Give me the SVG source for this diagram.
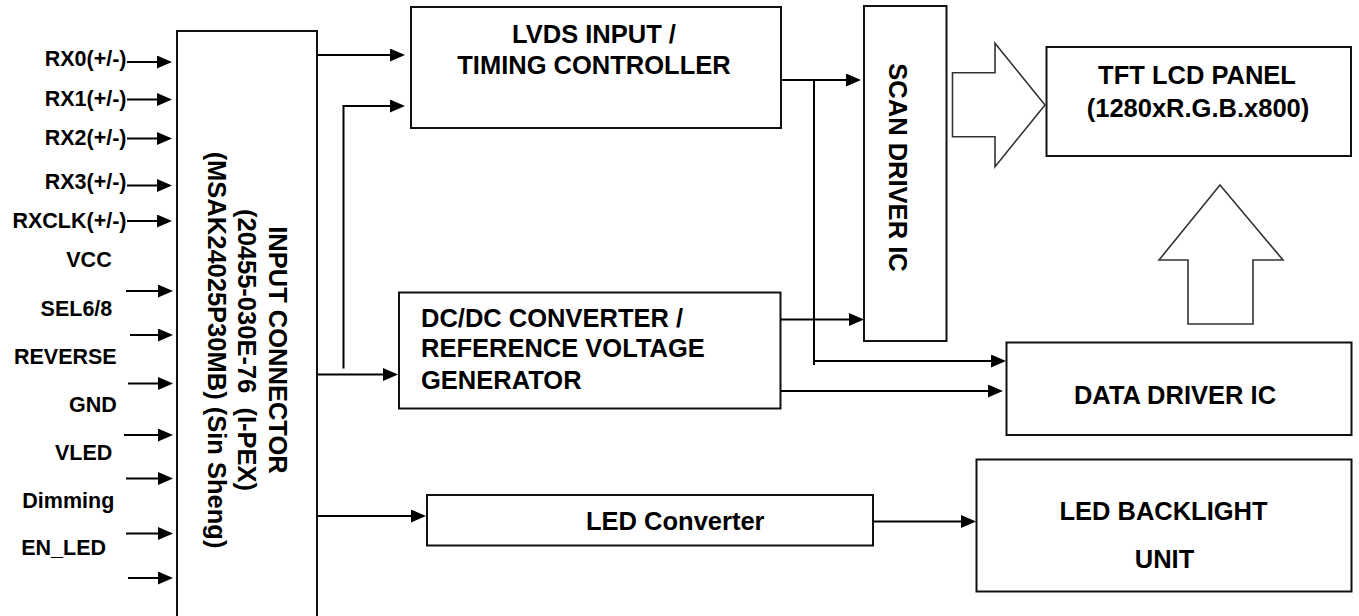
<svg xmlns="http://www.w3.org/2000/svg" width="1359" height="616" viewBox="0 0 1359 616">
<defs>
<style>
.box{fill:#fff;stroke:#111;stroke-width:2}
.big{fill:#fff;stroke:#333;stroke-width:1.6;stroke-linejoin:miter}
.ln{fill:none;stroke:#000;stroke-width:2}
.arr{fill:none;stroke:#000;stroke-width:2;marker-end:url(#ah)}
.t{font-family:"Liberation Sans",Arial,sans-serif;font-weight:bold;font-size:25.5px;fill:#000}
.c{text-anchor:middle}
.lb{font-family:"Liberation Sans",Arial,sans-serif;font-weight:bold;font-size:21.5px;fill:#000;text-anchor:end}
</style>
<marker id="ah" markerWidth="16" markerHeight="14" refX="7" refY="6.5" orient="auto" markerUnits="userSpaceOnUse">
<path d="M0,0 L15,6.5 L0,13 z" fill="#000"/>
</marker>
</defs>
<rect width="1359" height="616" fill="#fff"/>

<g id="input-connector">
<rect class="box" x="177" y="31" width="140" height="600"/>
<text class="t c" transform="translate(207.5,350) rotate(90)">(MSAK24025P30MB)  (Sin Sheng)</text>
<text class="t c" transform="translate(238,350) rotate(90)" xml:space="preserve">(20455-030E-76  (I-PEX)</text>
<text class="t c" transform="translate(269,350) rotate(90)">INPUT CONNECTOR</text>
</g>

<g id="signal-labels">
<text class="lb" x="126.5" y="66">RX0(+/-)</text>
<text class="lb" x="126.5" y="106">RX1(+/-)</text>
<text class="lb" x="126.5" y="145">RX2(+/-)</text>
<text class="lb" x="126.5" y="189">RX3(+/-)</text>
<text class="lb" x="126.5" y="228">RXCLK(+/-)</text>
<text class="lb" x="111.7" y="266.5">VCC</text>
<text class="lb" x="112.3" y="315.5">SEL6/8</text>
<text class="lb" x="116.7" y="363.5">REVERSE</text>
<text class="lb" x="116.7" y="411.5">GND</text>
<text class="lb" x="112.3" y="460">VLED</text>
<text class="lb" x="114.3" y="507.5">Dimming</text>
<text class="lb" x="106" y="554.5">EN_LED</text>
</g>

<g id="lvds-timing-controller">
<rect class="box" x="411" y="7" width="370" height="121"/>
<text class="t c" x="594" y="42.5">LVDS INPUT /</text>
<text class="t c" x="594" y="73.5">TIMING CONTROLLER</text>
</g>

<g id="dcdc-converter">
<rect class="box" x="399" y="292.5" width="381.5" height="116"/>
<text class="t" x="421" y="327">DC/DC CONVERTER /</text>
<text class="t" x="421" y="357">REFERENCE VOLTAGE</text>
<text class="t" x="421" y="389">GENERATOR</text>
</g>

<g id="led-converter">
<rect class="box" x="427" y="495" width="446" height="50.5"/>
<text class="t" x="586" y="530">LED Converter</text>
</g>

<g id="scan-driver-ic">
<rect class="box" x="864" y="6" width="82.5" height="335"/>
<text class="t c" transform="translate(889,167.5) rotate(90)">SCAN DRIVER IC</text>
</g>

<g id="tft-lcd-panel">
<rect class="box" x="1046.5" y="47" width="304.5" height="109"/>
<text class="t c" x="1197" y="83.5">TFT LCD PANEL</text>
<text class="t c" x="1198" y="116.5">(1280xR.G.B.x800)</text>
</g>

<g id="data-driver-ic">
<rect class="box" x="1006.5" y="342.5" width="345" height="92.5"/>
<text class="t c" x="1175" y="403.5">DATA DRIVER IC</text>
</g>

<g id="led-backlight-unit">
<rect class="box" x="976.5" y="459.5" width="375" height="132"/>
<text class="t c" x="1163.5" y="520">LED BACKLIGHT</text>
<text class="t c" x="1164.5" y="568">UNIT</text>
</g>

<g id="block-arrows">
<polygon class="big" points="952.5,72.7 995,72.7 995,43.3 1045,105 995,166.7 995,136.7 952.5,136.7"/>
<polygon class="big" points="1220,185 1283,260 1253,260 1253,324 1188,324 1188,260 1159,260"/>
</g>

<g id="connectors">
<line class="arr" x1="127" y1="62" x2="164" y2="62"/>
<line class="arr" x1="127" y1="99.5" x2="164" y2="99.5"/>
<line class="arr" x1="127" y1="138.5" x2="164" y2="138.5"/>
<line class="arr" x1="127" y1="185.5" x2="164" y2="185.5"/>
<line class="arr" x1="127" y1="221" x2="164" y2="221"/>
<line class="arr" x1="126" y1="291" x2="165" y2="291"/>
<line class="arr" x1="130" y1="335" x2="165" y2="335"/>
<line class="arr" x1="128" y1="383.5" x2="165" y2="383.5"/>
<line class="arr" x1="124" y1="435" x2="165" y2="435"/>
<line class="arr" x1="126" y1="478.5" x2="165" y2="478.5"/>
<line class="arr" x1="126" y1="533.5" x2="165" y2="533.5"/>
<line class="arr" x1="128" y1="578" x2="165" y2="578"/>

<line class="arr" x1="317" y1="55" x2="397" y2="55"/>
<polyline class="arr" points="343.5,368.5 343.5,106 397,106"/>
<line class="arr" x1="317" y1="374.5" x2="390" y2="374.5"/>
<line class="arr" x1="317" y1="516" x2="418" y2="516"/>

<line class="arr" x1="781" y1="80" x2="853" y2="80"/>
<line class="ln" x1="814" y1="80" x2="814" y2="365"/>
<line class="arr" x1="814" y1="361" x2="998" y2="361"/>
<line class="arr" x1="780.5" y1="319.5" x2="856" y2="319.5"/>
<line class="arr" x1="780.5" y1="391" x2="995" y2="391"/>
<line class="arr" x1="873" y1="521.5" x2="968" y2="521.5"/>
</g>
</svg>
